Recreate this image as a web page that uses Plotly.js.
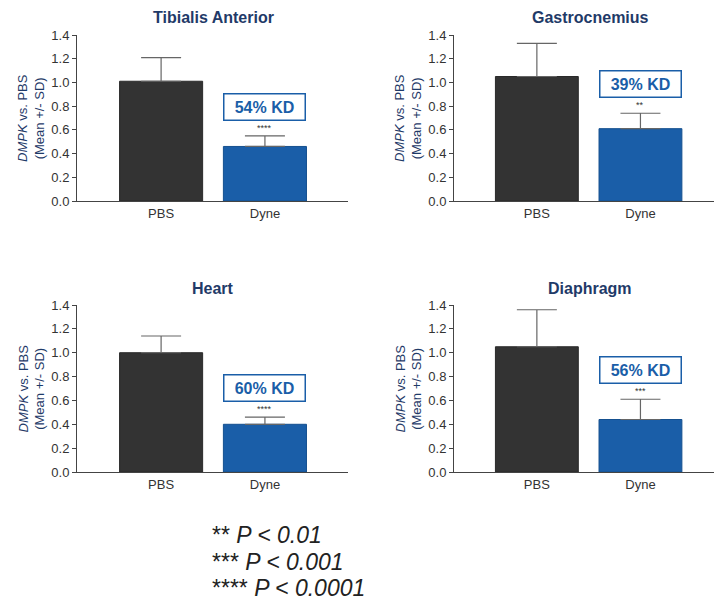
<!DOCTYPE html>
<html>
<head>
<meta charset="utf-8">
<script src="https://cdn.plot.ly/plotly-3.0.1.min.js"></script>
<style>html,body{margin:0;padding:0;background:#fff;}#chart{width:714px;height:602px;}</style>
</head>
<body>
<div id="chart"></div>
<script>
// ---- data ----
const muscles = ["Tibialis Anterior", "Gastrocnemius", "Heart", "Diaphragm"];
const groups = ["PBS", "Dyne"];
const pbsMean = [1.01, 1.05, 1.00, 1.05];
const pbsSD = [0.20, 0.28, 0.14, 0.31];
const dyneMean = [0.46, 0.61, 0.40, 0.44];
const dyneSD = [0.09, 0.13, 0.06, 0.17];
const kdLabels = ["54% KD", "39% KD", "60% KD", "56% KD"];
const sigStars = ["****", "**", "****", "***"];
const footStars = ["**", "***", "****"];
const footP = ["P < 0.01", "P < 0.001", "P < 0.0001"];
const yTicks = [0, 0.2, 0.4, 0.6, 0.8, 1.0, 1.2, 1.4];

// ---- style / layout ----
const W = 714, H = 602;
const FONT = "Liberation Sans, Arial, sans-serif";
const NAVY = "#1f3a68";
const BLUE = "#1a5ea8";
const DARK = "#333333";
const xDomains = [[77 / W, 348 / W], [454 / W, 1], [77 / W, 348 / W], [454 / W, 1]];
const yDomains = [[1 - 201 / H, 1 - 35 / H], [1 - 201 / H, 1 - 35 / H], [1 - 472 / H, 1 - 305 / H], [1 - 472 / H, 1 - 305 / H]];
const xRanges = [[-0.81, 1.80], [-0.80, 1.71], [-0.81, 1.80], [-0.80, 1.71]];
const titleX = [213, 590, 213, 590];
const titleY = [18, 18, 288, 288];

const traces = [];
const layout = {
  width: W, height: H, autosize: false,
  margin: {l: 0, r: 0, t: 0, b: 0},
  paper_bgcolor: "#fff", plot_bgcolor: "#fff",
  showlegend: false,
  font: {family: FONT, color: DARK},
  bargap: 0.2,
  annotations: []
};

for (let i = 0; i < 4; i++) {
  const sfx = i === 0 ? "" : String(i + 1);
  traces.push({
    type: "bar",
    x: groups,
    y: [pbsMean[i], dyneMean[i]],
    xaxis: "x" + sfx, yaxis: "y" + sfx,
    marker: {color: [DARK, BLUE], line: {color: ["#2a2a2a", "#15508f"], width: 1}},
    error_y: {type: "data", symmetric: false, array: [pbsSD[i], dyneSD[i]], arrayminus: [0, 0],
      color: "#666", thickness: 1.2, width: 20},
    hoverinfo: "skip"
  });
  layout["xaxis" + sfx] = {
    domain: xDomains[i], anchor: "y" + sfx, type: "category",
    range: xRanges[i], showgrid: false, zeroline: false,
    showline: true, linecolor: "#444", linewidth: 1,
    ticks: "", tickfont: {size: 13, color: DARK, family: FONT}, fixedrange: true
  };
  layout["yaxis" + sfx] = {
    domain: yDomains[i], anchor: "x" + sfx, range: [0, 1.4],
    tickvals: yTicks, tickformat: ".1f", showgrid: false, zeroline: false,
    showline: true, linecolor: "#444", linewidth: 1,
    ticks: "outside", ticklen: 4, tickcolor: "#444",
    tickfont: {size: 13, color: DARK, family: FONT}, fixedrange: true
  };
  // panel title
  layout.annotations.push({
    xref: "paper", yref: "paper", x: titleX[i] / W, y: 1 - titleY[i] / H,
    xanchor: "center", yanchor: "middle", showarrow: false,
    text: "<b>" + muscles[i] + "</b>", font: {size: 16, color: NAVY, family: FONT}
  });
  // y-axis title
  layout.annotations.push({
    xref: "paper", yref: "paper", x: xDomains[i][0] - 46 / W, y: (yDomains[i][0] + yDomains[i][1]) / 2,
    xanchor: "center", yanchor: "middle", showarrow: false, textangle: -90,
    text: "<i>DMPK</i> vs. PBS<br>(Mean +/- SD)", font: {size: 13, color: NAVY, family: FONT}
  });
  // significance stars
  const top = dyneMean[i] + dyneSD[i];
  layout.annotations.push({
    xref: "x" + sfx, yref: "y" + sfx, x: "Dyne", y: top,
    xanchor: "center", yanchor: "bottom", yshift: 1, showarrow: false,
    text: sigStars[i], font: {size: 9, color: DARK, family: FONT}
  });
  // KD box
  layout.annotations.push({
    xref: "x" + sfx, yref: "y" + sfx, x: "Dyne", y: top + 0.245,
    xanchor: "center", yanchor: "middle", showarrow: false,
    text: "<b>" + kdLabels[i] + "</b>", font: {size: 16, color: BLUE, family: FONT},
    bordercolor: BLUE, borderwidth: 1.5, borderpad: 3, bgcolor: "#fff",
    width: 74, height: 19
  });
}

// footnote
const footY = [535, 562, 588];
for (let k = 0; k < footStars.length; k++) {
  layout.annotations.push({
    xref: "paper", yref: "paper", x: 210 / W, y: 1 - footY[k] / H,
    xanchor: "left", yanchor: "middle", showarrow: false, align: "left",
    text: footStars[k] + " <i>" + footP[k] + "</i>", font: {size: 23, color: "#222", family: FONT}
  });
}

Plotly.newPlot("chart", traces, layout, {displayModeBar: false, staticPlot: true});
</script>
</body>
</html>
